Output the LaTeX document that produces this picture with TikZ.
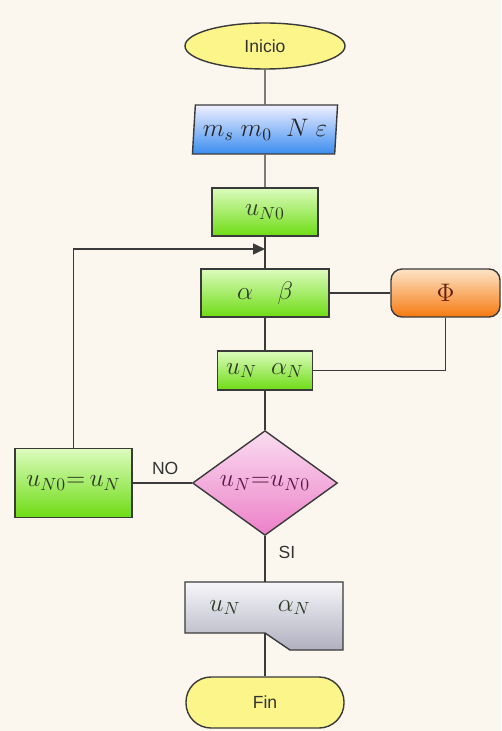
\documentclass[tikz,border=0pt]{standalone}
\usepackage{amsmath}
\usepackage{fontspec}
\setsansfont{Liberation Sans}
\usepackage{tikz}
\usetikzlibrary{calc,arrows.meta,shapes.geometric,positioning}

\definecolor{fondo}{HTML}{FBF7EE}
\definecolor{linea}{HTML}{3A3A3A}
\definecolor{amarillo}{HTML}{FBF58A}
\definecolor{texto}{HTML}{2E3A26}

\tikzset{
  conector/.style={draw=linea, line width=0.8pt},
  caja/.style={rectangle, draw=linea, line width=0.8pt, text=texto,
    top color={rgb,255:red,220;green,252;blue,190}, bottom color={rgb,255:red,110;green,220;blue,20},
    font=\fontsize{14}{16}\selectfont},
  etiqueta/.style={font=\sffamily\fontsize{10}{12}\selectfont, text=black!80}
}

\begin{document}
\begin{tikzpicture}[x=1cm,y=1cm]

\fill[fondo] (0,0) rectangle (10.02,-14.62);
\useasboundingbox (0,0) rectangle (10.02,-14.62);

\node[ellipse, draw=linea, line width=0.8pt, fill=amarillo, minimum width=3.2cm, minimum height=0.92cm, etiqueta] (inicio) at (5.3,-0.92) {Inicio};

\node[trapezium, trapezium left angle=83, trapezium right angle=97, trapezium stretches=true,
  draw=linea, line width=0.8pt, top color=blue!6, bottom color={rgb,255:red,58;green,140;blue,240},
  minimum width=2.92cm, minimum height=0.98cm, inner sep=0pt, text=black!85,
  font=\fontsize{14}{16}\selectfont] (datos) at (5.3,-2.59) {$m_s\;m_0\;\;N\;\varepsilon$};

\node[caja, minimum width=2.12cm, minimum height=0.96cm] (un0) at (5.3,-4.24) {$u_{N0}$};

\coordinate (merge) at (5.3,-4.98);

\node[caja, minimum width=2.56cm, minimum height=0.96cm] (ab) at (5.3,-5.86) {$\alpha\quad\beta$};

  \node[rectangle, rounded corners=0.22cm, draw=linea, line width=0.8pt,
    top color={rgb,255:red,253;green,228;blue,200}, bottom color={rgb,255:red,246;green,122;blue,16},
    minimum width=2.18cm, minimum height=0.96cm, text={rgb,255:red,100;green,30;blue,10},
    font=\fontsize{14}{16}\selectfont] (phi) at (8.91,-5.86) {$\Phi$};

\node[caja, minimum width=1.9cm, minimum height=0.78cm] (una) at (5.3,-7.41) {$u_N\;\;\alpha_N$};

\node[diamond, draw=linea, line width=0.8pt, inner sep=0pt,
  top color={rgb,255:red,250;green,220;blue,240}, bottom color={rgb,255:red,236;green,128;blue,200},
  minimum width=2.9cm, minimum height=2.06cm, text={rgb,255:red,90;green,25;blue,75},
  font=\fontsize{14}{16}\selectfont] (cond) at (5.3,-9.66) {$u_N{=}u_{N0}$};

\node[caja, minimum width=2.34cm, minimum height=1.38cm] (asig) at (1.47,-9.66) {$u_{N0}{=}\,u_N$};

    % salida de datos
    \shade[top color={rgb,255:red,246;green,246;blue,250}, bottom color={rgb,255:red,176;green,176;blue,192}, draw=linea, line width=0.8pt]
      (3.7,-11.64) -- (6.86,-11.64) -- (6.86,-13.0) -- (5.8,-13.0) -- (5.3,-12.66) -- (3.7,-12.66) -- cycle;
\node[minimum width=3.16cm, minimum height=1.02cm, inner sep=0pt, text=texto,
  font=\fontsize{14}{16}\selectfont] (salida) at (5.3,-12.15) {};
\node[text=texto, font=\fontsize{14}{16}\selectfont] (salidatxt) at (5.2,-12.15) {$u_N\hspace{0.75cm}\alpha_N$};

\node[rectangle, rounded corners=0.5cm, draw=linea, line width=0.8pt, fill=amarillo,
  minimum width=3.16cm, minimum height=1.02cm, etiqueta] (fin) at (5.3,-14.05) {Fin};

\draw[conector] (inicio) -- (datos);
\draw[conector] (datos) -- (un0);
\draw[conector] (un0) -- (ab);
\draw[conector] (ab) -- (phi);
\draw[conector] (phi.south) |- (una.east);
\draw[conector] (ab) -- (una);
\draw[conector] (una) -- (cond);
\draw[conector] (cond.west) -- node[etiqueta, above, pos=0.45, yshift=1pt] {NO} (asig.east);
\draw[conector] (cond.south) -- node[etiqueta, right, pos=0.35, xshift=4pt] {SI} (salida.north);
\draw[conector] (salida.south) -- (fin.north);

\draw[conector, -{Triangle[length=2.4mm,width=2.2mm]}] (asig.north) |- (merge);

\end{tikzpicture}
\end{document}
